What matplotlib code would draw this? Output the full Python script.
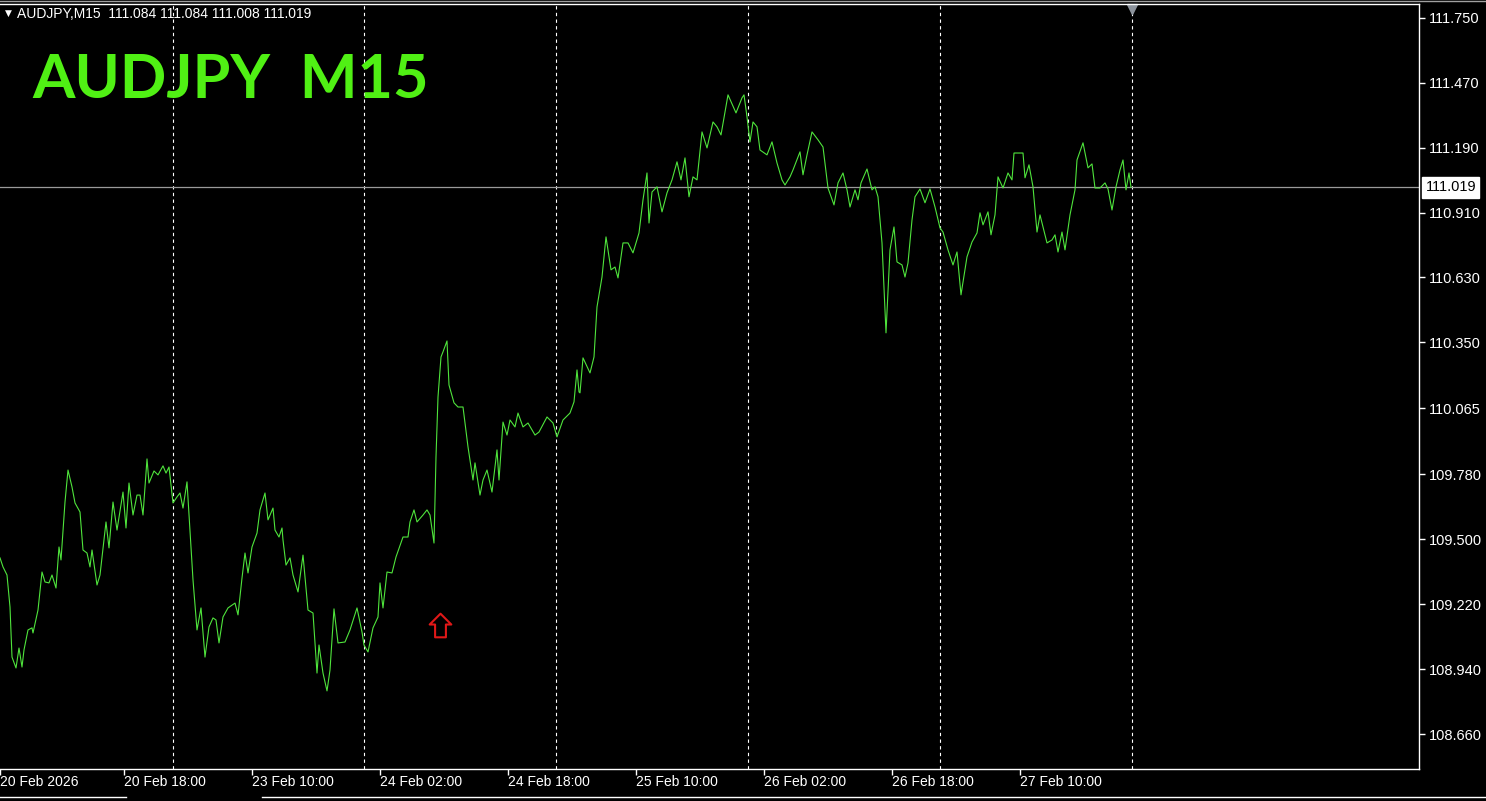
import matplotlib
matplotlib.use("Agg")
import matplotlib.pyplot as plt
import matplotlib.transforms as mtransforms
from matplotlib.path import Path
from matplotlib.lines import Line2D

plt.rcParams['font.family'] = ['Liberation Sans', 'DejaVu Sans']

# AUDJPY M15 close prices (x = bar index, 2 px per bar)
bars = [0, 1.5, 3.5, 5, 6, 8, 9.5, 11, 12, 14, 16, 16.5, 19, 21, 22.5, 24.5, 26, 28, 29.5, 30.5,
        32.5, 34, 36, 37.5, 40, 41.5, 43.5, 45, 46, 48.5, 50, 53, 54.5, 56.5, 58.5, 61.5, 63, 64.5,
        66.5, 68.5, 70, 71.5, 73.5, 74.5, 77, 79, 81.5, 83, 84.5, 86.5, 88.5, 90, 91.5, 93.5, 95,
        96.5, 98.5, 100.5, 102.5, 104.5, 106.5, 108, 109.5, 111.5, 114, 117.5, 119, 121, 122.5, 124,
        126, 128.5, 130, 132.5, 134, 136.5, 137.5, 139.5, 141, 141.5, 143, 145, 146.5, 149, 151.5,
        154, 156.5, 158.5, 159.5, 161.5, 163.5, 165, 167, 169, 172.5, 175, 178.5, 181, 182, 184,
        186.5, 189, 190, 191.5, 193.5, 196, 198, 201.5, 204, 205, 207, 208.5, 211.5, 213.5, 215,
        217, 218, 219, 220.5, 221.5, 223.5, 224.5, 227, 229, 231.5, 234, 236.5, 237.5, 240, 241.5,
        243.5, 246, 248.5, 249.5, 251.5, 253.5, 255, 257.5, 259, 261.5, 264, 267.5, 269.5, 273.5,
        276.5, 278.5, 281.5, 285, 287, 288.5, 289.5, 290, 291.5, 295, 297, 298.5, 301, 303, 305.5,
        307.5, 309, 311.5, 314, 316.5, 319.5, 321.5, 323.5, 324.5, 326, 328.5, 331, 333.5, 336,
        338.5, 340.5, 342.5, 344.5, 346.5, 348.5, 351, 353.5, 356.5, 358.5, 360.5, 364, 368, 371,
        372, 373.5, 375, 376.5, 378.5, 380, 383.5, 386, 388.5, 391, 392.5, 395, 396.5, 400, 401.5,
        403.5, 406, 409, 411.5, 414, 417, 419, 421.5, 423.5, 425, 427.5, 429, 430.5, 433.5, 436,
        437.5, 439, 441, 443, 445, 447, 448.5, 451, 452.5, 454, 456, 457.5, 460, 462.5, 465, 467.5,
        470, 471.5, 474, 476.5, 478.5, 480.5, 483.5, 486, 488.5, 490, 491.5, 494, 495.5, 497.5, 499,
        501.5, 504, 506, 507, 509, 511.5, 512.5, 514.5, 516.5, 518.5, 520, 523.5, 526, 527.5, 529,
        531, 532.5, 535, 537.5, 538.5, 541.5, 544, 546, 547.5, 550, 552.5, 554, 556, 558, 560,
        561.5, 563, 564.5, 565.5]
close = [109.420, 109.381, 109.346, 109.208, 108.992, 108.945, 109.031, 108.949, 109.023, 109.109,
         109.118, 109.096, 109.195, 109.359, 109.316, 109.312, 109.346, 109.290, 109.467, 109.411,
         109.661, 109.799, 109.726, 109.657, 109.618, 109.454, 109.441, 109.381, 109.454, 109.303,
         109.346, 109.575, 109.463, 109.661, 109.540, 109.704, 109.549, 109.743, 109.605, 109.691,
         109.691, 109.605, 109.847, 109.743, 109.795, 109.778, 109.817, 109.786, 109.812, 109.657,
         109.683, 109.700, 109.635, 109.748, 109.540, 109.325, 109.109, 109.204, 108.992, 109.122,
         109.161, 109.152, 109.053, 109.165, 109.204, 109.225, 109.174, 109.333, 109.441, 109.355,
         109.467, 109.527, 109.627, 109.700, 109.584, 109.635, 109.540, 109.510, 109.549, 109.497,
         109.389, 109.420, 109.346, 109.273, 109.432, 109.195, 109.182, 108.923, 109.044, 108.923,
         108.846, 108.936, 109.200, 109.053, 109.057, 109.109, 109.204, 109.100, 109.044, 109.014,
         109.118, 109.165, 109.312, 109.204, 109.359, 109.355, 109.424, 109.510, 109.510, 109.575,
         109.627, 109.575, 109.605, 109.627, 109.605, 109.484, 109.856, 110.114, 110.287, 110.309,
         110.356, 110.166, 110.089, 110.071, 110.071, 109.899, 109.756, 109.830, 109.691, 109.756,
         109.799, 109.704, 109.886, 109.756, 110.006, 109.950, 110.015, 109.985, 110.045, 109.985,
         110.002, 109.950, 109.963, 110.028, 110.002, 109.942, 110.015, 110.045, 110.093, 110.231,
         110.136, 110.132, 110.283, 110.218, 110.287, 110.503, 110.632, 110.805, 110.663, 110.675,
         110.628, 110.779, 110.779, 110.736, 110.822, 110.965, 111.081, 110.865, 110.999, 111.021,
         110.913, 110.995, 111.051, 111.129, 111.051, 111.146, 110.978, 111.064, 111.051, 111.258,
         111.189, 111.301, 111.280, 111.245, 111.418, 111.340, 111.405, 111.418, 111.323, 111.215,
         111.301, 111.280, 111.180, 111.159, 111.215, 111.124, 111.051, 111.029, 111.064, 111.094,
         111.172, 111.073, 111.159, 111.258, 111.224, 111.193, 111.016, 110.943, 111.038, 111.081,
         111.008, 110.934, 111.008, 110.965, 111.038, 111.098, 111.008, 111.021, 110.978, 110.779,
         110.391, 110.749, 110.848, 110.697, 110.684, 110.632, 110.693, 110.878, 110.978, 111.012,
         110.952, 111.012, 110.934, 110.844, 110.826, 110.749, 110.684, 110.740, 110.555, 110.719,
         110.783, 110.822, 110.909, 110.857, 110.913, 110.814, 110.900, 111.064, 111.016, 111.081,
         111.051, 111.167, 111.167, 111.167, 111.060, 111.116, 111.021, 110.826, 110.900, 110.779,
         110.792, 110.814, 110.740, 110.826, 110.749, 110.900, 111.008, 111.137, 111.211, 111.103,
         111.120, 111.016, 111.016, 111.038, 111.012, 110.921, 111.021, 111.094, 111.137, 111.008,
         111.081, 111.019]

last_price = 111.019
header = "AUDJPY,M15  111.084 111.084 111.008 111.019"
title = "AUDJPY  M15"

price_ticks = [111.750, 111.470, 111.190, 110.910, 110.630, 110.350, 110.065,
               109.780, 109.500, 109.220, 108.940, 108.660]
time_tick_bars = [0, 62, 126, 190, 254, 318, 382, 446, 510]
time_tick_labels = ["20 Feb 2026", "20 Feb 18:00", "23 Feb 10:00", "24 Feb 02:00",
                    "24 Feb 18:00", "25 Feb 10:00", "26 Feb 02:00", "26 Feb 18:00",
                    "27 Feb 10:00"]
day_separators = [86.5, 182, 278, 374, 470, 566]
arrow_bar = 220
arrow_price = 109.13

W, H = 1486, 801
fig = plt.figure(figsize=(W / 100, H / 100), dpi=100, facecolor='black')
ax = fig.add_axes([0, 32 / H, 1419 / W, 765 / H], facecolor='black')

ax.set_xlim(0, 709.5)
ax.set_ylim(108.509, 111.810)

for b in day_separators:
    ax.axvline(b, color='white', lw=0.8, linestyle=(0, (3, 3)))

ax.axhline(last_price, color='#9a9a9a', lw=0.9)
ax.plot(bars, close, color='#4fe43c', lw=0.8)

# hollow up arrow object
arrow = Path([(0, 12), (11, 1), (5.5, 1), (5.5, -12), (-5.5, -12), (-5.5, 1), (-11, 1), (0, 12)],
             [Path.MOVETO] + [Path.LINETO] * 6 + [Path.CLOSEPOLY])
ax.plot([arrow_bar], [arrow_price], marker=arrow, markersize=17, markerfacecolor='none',
        markeredgecolor='#e01818', markeredgewidth=1.5, linestyle='none')

# chart shift marker
trans = mtransforms.blended_transform_factory(ax.transData, ax.transAxes)
ax.plot([day_separators[-1]], [0.994], marker='v', markersize=7, color='#8c939c',
        transform=trans, clip_on=False)

ax.spines['left'].set_visible(False)
for side in ['top', 'right', 'bottom']:
    ax.spines[side].set_color('white')
    ax.spines[side].set_linewidth(1)

ax.yaxis.tick_right()
ax.set_yticks(price_ticks)
ax.set_yticklabels([f"{p:.3f}" for p in price_ticks])
ax.tick_params(axis='y', colors='white', length=4, width=1, pad=3, labelsize=10.5)
ax.set_xticks(time_tick_bars)
ax.set_xticklabels(time_tick_labels, ha='left')
ax.tick_params(axis='x', colors='white', length=4, width=1, pad=0.5, labelsize=10)

# current price label
ax.text(1.0045, last_price, f"{last_price:.3f}",
        transform=mtransforms.blended_transform_factory(ax.transAxes, ax.transData),
        ha='left', va='center', fontsize=10.5, color='black',
        bbox=dict(boxstyle='square,pad=0.22', facecolor='white', edgecolor='white'))

fig.text(17 / W, 1 - 14 / H, header, color='white', fontsize=10, va='center', ha='left')
fig.text(5 / W, 1 - 13 / H, '\u25bc', color='white', fontsize=6.5, va='center', ha='left',
         family='DejaVu Sans')
fig.text(32 / W, 1 - 80 / H, title, color='#50f014', fontsize=44, fontweight='bold',
         va='center', ha='left', family='Lato')

# window frame lines at top and bottom
fig.add_artist(Line2D([0, 1], [1 - 1 / H, 1 - 1 / H], color='#a0a0a0', lw=1))
fig.add_artist(Line2D([0, 126 / W], [1 - 797 / H] * 2, color='white', lw=1))
fig.add_artist(Line2D([262 / W, 1], [1 - 797 / H] * 2, color='white', lw=1))

fig.savefig('out.png', dpi=100, facecolor='black')
